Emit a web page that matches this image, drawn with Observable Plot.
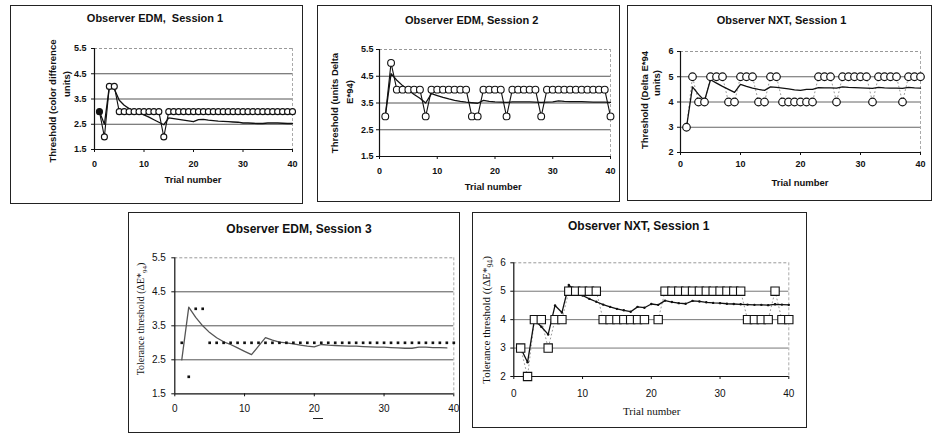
<!DOCTYPE html>
<html>
<head>
<meta charset="utf-8">
<script src="https://cdn.jsdelivr.net/npm/d3@7"></script>
<script src="https://cdn.jsdelivr.net/npm/@observablehq/plot@0.6"></script>
<style>
  body { margin: 0; background: #fff; }
  #page { position: relative; width: 934px; height: 436px; overflow: hidden; background: #fff; color: #111; }
  .panel { position: absolute; }
  .panel svg { position: absolute; left: 0; top: 0; overflow: visible; background: transparent; }
  .frame { position: absolute; left: 0; top: 0; right: 0; bottom: 0; border: 1.3px solid #222; pointer-events: none; }
  .lbl { position: absolute; white-space: nowrap; line-height: 1; transform: translate(-50%, -50%); }
  .lbl.rot { transform: translate(-50%, -50%) rotate(-90deg); }
</style>
</head>
<body>
<div id="page"></div>
<script>
// Trial numbers shared by every staircase run
const trials = [1,2,3,4,5,6,7,8,9,10,11,12,13,14,15,16,17,18,19,20,
                21,22,23,24,25,26,27,28,29,30,31,32,33,34,35,36,37,38,39,40];

const xTicks = [0, 10, 20, 30, 40];
const yTicksHalf = [1.5, 2.5, 3.5, 4.5, 5.5];
const yTicksWhole = [2, 3, 4, 5, 6];

// Observer EDM, session 1: presented level per trial and running threshold estimate
const edm1Response = [3,2,4,4,3,3,3,3,3,3,3,3,3,2,3,3,3,3,3,3,
                      3,3,3,3,3,3,3,3,3,3,3,3,3,3,3,3,3,3,3,3];
const edm1Threshold = [3.0,2.5,4.0,3.9,3.45,3.25,3.12,3.02,2.95,2.87,2.78,2.68,2.58,2.48,2.75,2.72,2.69,2.66,2.63,2.6,
                       2.68,2.69,2.66,2.64,2.62,2.61,2.6,2.59,2.58,2.55,2.55,2.54,2.53,2.53,2.55,2.55,2.55,2.54,2.53,2.53];

// Observer EDM, session 2
const edm2Response = [3,5,4,4,4,4,4,3,4,4,4,4,4,4,4,3,3,4,4,4,
                      4,3,4,4,4,4,4,3,4,4,4,4,4,4,4,4,4,4,4,3];
const edm2Threshold = [3.0,4.6,4.35,4.15,3.98,3.82,3.68,3.5,3.85,3.78,3.71,3.65,3.6,3.56,3.53,3.51,3.49,3.6,3.56,3.54,
                       3.53,3.52,3.54,3.54,3.54,3.54,3.53,3.52,3.53,3.54,3.58,3.56,3.55,3.55,3.55,3.54,3.53,3.53,3.53,3.52];

// Observer NXT, session 1 (top row)
const nxt1Response = [3,5,4,4,5,5,5,4,4,5,5,5,4,4,5,5,4,4,4,4,
                      4,4,5,5,5,4,5,5,5,5,5,4,5,5,5,5,4,5,5,5];
const nxt1Threshold = [3.0,4.6,4.3,4.05,4.88,4.75,4.62,4.5,4.38,4.7,4.62,4.55,4.5,4.46,4.6,4.58,4.55,4.52,4.48,4.46,
                       4.5,4.5,4.57,4.56,4.56,4.55,4.6,4.58,4.57,4.56,4.55,4.54,4.58,4.56,4.55,4.55,4.54,4.58,4.56,4.55];

// Observer EDM, session 3
const edm3Response = [3,2,4,4,3,3,3,3,3,3,3,3,3,3,3,3,3,3,3,3,
                      3,3,3,3,3,3,3,3,3,3,3,3,3,3,3,3,3,3,3,3];
const edm3Threshold = [2.5,4.05,3.75,3.5,3.3,3.15,3.03,2.95,2.85,2.75,2.65,2.9,3.15,3.08,3.02,3.0,2.97,2.93,2.9,2.88,
                       2.95,2.93,2.92,2.91,2.9,2.9,2.89,2.88,2.87,2.87,2.86,2.85,2.84,2.84,2.87,2.87,2.86,2.86,2.85,null];

// Observer NXT, session 1 (bottom row)
const nxt1bResponse = [3,2,4,4,3,4,4,5,5,5,5,5,4,4,4,4,4,4,4,null,
                       4,5,5,5,5,5,5,5,5,5,5,5,5,4,4,4,4,5,4,4];
const nxt1bThreshold = [3.0,2.5,4.0,3.75,3.48,4.5,4.25,5.22,5.0,4.85,4.73,4.63,4.53,4.45,4.38,4.33,4.28,4.45,4.42,4.55,
                        4.52,4.67,4.62,4.58,4.56,4.66,4.64,4.61,4.59,4.58,4.56,4.55,4.54,4.53,4.52,4.52,4.51,4.54,4.53,4.52];

const page = document.getElementById("page");
const sans = "'Liberation Sans', Arial, sans-serif";
const serif = "'Liberation Serif', 'Times New Roman', serif";

function label(text, x, y, opts = {}) {
  const el = document.createElement("div");
  el.className = "lbl" + (opts.rotate ? " rot" : "");
  el.innerHTML = text;
  Object.assign(el.style, {
    left: x + "px", top: y + "px",
    fontSize: (opts.size || 9) + "px",
    fontWeight: opts.weight || "normal",
    fontFamily: opts.family || sans
  });
  page.appendChild(el);
}

function drawPanel(cfg) {
  const f = cfg.frame, p = cfg.area;
  const W = f.r - f.l, H = f.b - f.t;
  const div = document.createElement("div");
  div.className = "panel";
  Object.assign(div.style, { left: f.l + "px", top: f.t + "px", width: W + "px", height: H + "px" });

  const rows = trials.map((t, i) => ({ trial: t, response: cfg.response[i], threshold: cfg.threshold[i] }));
  const yLo = cfg.yTicks[0], yHi = cfg.yTicks[cfg.yTicks.length - 1];

  const svg = Plot.plot({
    width: W, height: H,
    marginLeft: p.x0 - f.l, marginRight: f.r - p.x40,
    marginTop: p.yTop - f.t, marginBottom: f.b - p.yBot,
    x: { domain: [0, 40] },
    y: { domain: [yLo, yHi] },
    style: { fontFamily: sans, fontSize: cfg.tickSize + "px", fontWeight: cfg.tickWeight, color: "#111", background: "transparent" },
    marks: [
      Plot.ruleY(cfg.yTicks.slice(1, -1), { stroke: cfg.grid, strokeWidth: 1 }),
      Plot.ruleY([yHi], { stroke: "#999", strokeDasharray: "3,2" }),
      Plot.ruleX([40], { stroke: "#aaa", strokeDasharray: "3,2" }),
      Plot.ruleX([0], { stroke: "#111", strokeWidth: 1.2 }),
      Plot.ruleY([yLo], { stroke: "#111", strokeWidth: 1.2 }),
      Plot.axisX({ ticks: xTicks, tickSize: 3, tickPadding: cfg.xPad, label: null }),
      Plot.axisY({ ticks: cfg.yTicks, tickSize: 3, tickPadding: cfg.yPad, tickFormat: cfg.fmt, label: null }),
      ...cfg.series(rows)
    ]
  });
  div.appendChild(svg);
  const frame = document.createElement("div");
  frame.className = "frame";
  div.appendChild(frame);
  page.appendChild(div);
}

const half = d3.format(".1f");
const whole = d3.format("d");

// Circles joined by a line, with the running estimate underneath;
// firstSolid marks the starting trial with a filled dot
const joinedCircles = (r, firstSolid) => (rows) => [
  Plot.line(rows, { x: "trial", y: "threshold", stroke: "#111", strokeWidth: 1.3 }),
  Plot.line(rows, { x: "trial", y: "response", stroke: "#111", strokeWidth: 1.1 }),
  Plot.dot(rows, { x: "trial", y: "response", r, stroke: "#111", strokeWidth: 1.1,
                   fill: d => firstSolid && d.trial === 1 ? "#111" : "#fff" })
];

// EDM session 1
drawPanel({
  frame: { l: 10, t: 5, r: 303, b: 204 },
  area: { x0: 94, x40: 292, yTop: 48, yBot: 149 },
  yTicks: yTicksHalf, fmt: half, grid: "#555",
  tickSize: 9, tickWeight: "bold", xPad: 8, yPad: 5,
  response: edm1Response, threshold: edm1Threshold,
  series: joinedCircles(3, true)
});
label("Observer EDM,&nbsp; Session 1", 155, 17.5, { size: 11, weight: "bold" });
label("Trial number", 193, 180, { size: 9.5, weight: "bold" });
label("Threshold (color difference", 52.7, 101, { size: 9.5, weight: "bold", rotate: true });
label("units)", 66.5, 84, { size: 9.5, weight: "bold", rotate: true });

// EDM session 2
drawPanel({
  frame: { l: 317, t: 5, r: 620, b: 202 },
  area: { x0: 379, x40: 610, yTop: 49, yBot: 156 },
  yTicks: yTicksHalf, fmt: half, grid: "#555",
  tickSize: 9, tickWeight: "bold", xPad: 8, yPad: 3,
  response: edm2Response, threshold: edm2Threshold,
  series: joinedCircles(3.4, false)
});
label("Observer EDM, Session 2", 471.7, 20, { size: 11, weight: "bold" });
label("Trial number", 493.3, 186.5, { size: 9.5, weight: "bold" });
label("Threshold (units Delta", 335, 103, { size: 9.5, weight: "bold", rotate: true });
label("E*94)", 349.5, 92, { size: 9.5, weight: "bold", rotate: true });

// NXT session 1, top row
drawPanel({
  frame: { l: 627, t: 5, r: 932, b: 201 },
  area: { x0: 680, x40: 920, yTop: 51, yBot: 152 },
  yTicks: yTicksWhole, fmt: whole, grid: "#666",
  tickSize: 9, tickWeight: "bold", xPad: 5, yPad: 4,
  response: nxt1Response, threshold: nxt1Threshold,
  series: (rows) => [
    Plot.line(rows, { x: "trial", y: "response", stroke: "#999", strokeWidth: 1, strokeDasharray: "1,3" }),
    Plot.line(rows, { x: "trial", y: "threshold", stroke: "#111", strokeWidth: 1.3 }),
    Plot.dot(rows, { x: "trial", y: "response", r: 3.8, stroke: "#111", strokeWidth: 1.2, fill: "#fff" })
  ]
});
label("Observer NXT, Session 1", 781.5, 20, { size: 11, weight: "bold" });
label("Trial number", 800, 182.5, { size: 9.5, weight: "bold" });
label("Threshold (Delta E*94", 645, 100, { size: 9.5, weight: "bold", rotate: true });
label("units)", 656.5, 83, { size: 9.5, weight: "bold", rotate: true });

// EDM session 3
drawPanel({
  frame: { l: 128, t: 212, r: 460, b: 433 },
  area: { x0: 174.3, x40: 453.3, yTop: 257.3, yBot: 393.3 },
  yTicks: yTicksHalf, fmt: half, grid: "#555",
  tickSize: 10, tickWeight: "normal", xPad: 8, yPad: 6,
  response: edm3Response, threshold: edm3Threshold,
  series: (rows) => [
    Plot.line(rows, { x: "trial", y: "threshold", stroke: "#555", strokeWidth: 1.3 }),
    Plot.dot(rows, { x: "trial", y: "response", symbol: "square", r: 1.5, fill: "#111", stroke: "none" })
  ]
});
label("Observer EDM, Session 3", 299, 228.5, { size: 12, weight: "bold" });
label("Tolerance threshold (ΔE*<sub style='font-size:70%'>94</sub>)", 141.7, 319, { size: 10, family: serif, rotate: true });
{
  const dash = document.createElement("div");
  Object.assign(dash.style, { position: "absolute", left: "313px", top: "418px", width: "10px", height: "0", borderTop: "1.6px solid #222" });
  page.appendChild(dash);
}

// NXT session 1, bottom row
drawPanel({
  frame: { l: 472, t: 212, r: 807, b: 428 },
  area: { x0: 513.3, x40: 788.3, yTop: 262.3, yBot: 376 },
  yTicks: yTicksWhole, fmt: whole, grid: "#777",
  tickSize: 10, tickWeight: "normal", xPad: 10, yPad: 5,
  response: nxt1bResponse, threshold: nxt1bThreshold,
  series: (rows) => [
    Plot.line(rows, { x: "trial", y: "response", stroke: "#999", strokeWidth: 1, strokeDasharray: "1,3" }),
    Plot.line(rows, { x: "trial", y: "threshold", stroke: "#111", strokeWidth: 1.3 }),
    Plot.dot(rows, { x: "trial", y: "threshold", r: 1.2, fill: "#111", stroke: "none" }),
    Plot.dot(rows, { x: "trial", y: "response", symbol: "square", r: 4.7, stroke: "#111", strokeWidth: 1.1, fill: "#fff" })
  ]
});
label("Observer NXT, Session 1", 638.7, 226, { size: 12, weight: "bold" });
label("Trial number", 651.7, 410.5, { size: 11, family: serif });
label("Tolerance threshold ((ΔE*<sub style='font-size:70%'>94</sub>)", 488.3, 320, { size: 11, family: serif, rotate: true });
</script>
</body>
</html>
